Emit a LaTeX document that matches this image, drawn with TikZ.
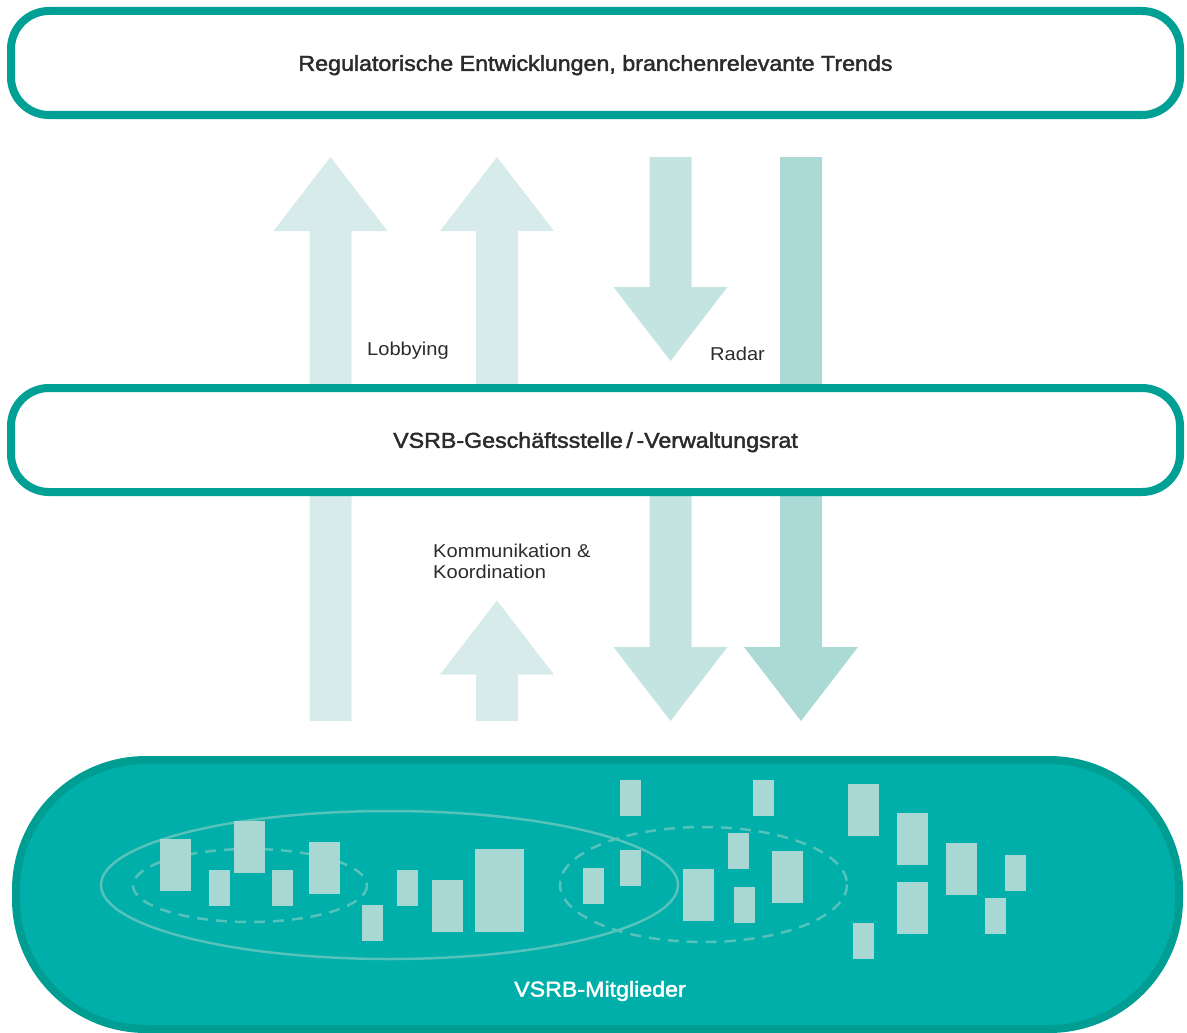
\documentclass[tikz,border=0pt]{standalone}
\usepackage{fontspec}
\setmainfont{Liberation Sans}[FakeStretch=1.08]
\newfontfamily\mediumfont{Liberation Sans}[FakeStretch=1.08,FakeBold=2]
\usetikzlibrary{positioning}

\definecolor{vsrbline}{HTML}{00A094}
\definecolor{vsrbfill}{HTML}{00AFA9}
\definecolor{vsrbedge}{HTML}{009D93}
\definecolor{ink}{HTML}{2B2B2B}
\definecolor{arrowlight}{HTML}{D7ECEA}
\definecolor{arrowmid}{HTML}{C4E4E1}
\definecolor{arrowdark}{HTML}{ABD9D5}
\definecolor{memberfill}{HTML}{A9D7D4}
\definecolor{ringline}{HTML}{55C2BC}

% block arrows: colour, centre x, tip y, tail y
\newcommand{\blockup}[4]{\fill[#1] (#2-21,#4) -- (#2-21,#3+74) -- (#2-57,#3+74) -- (#2,#3) -- (#2+57,#3+74) -- (#2+21,#3+74) -- (#2+21,#4) -- cycle;}
\newcommand{\blockdown}[4]{\fill[#1] (#2-21,#4) -- (#2-21,#3-74) -- (#2-57,#3-74) -- (#2,#3) -- (#2+57,#3-74) -- (#2+21,#3-74) -- (#2+21,#4) -- cycle;}

\begin{document}
\begin{tikzpicture}[x=1pt,y=-1pt,
  panel/.style={draw=vsrbline,line width=8pt,fill=white,rounded corners=38pt,minimum width=1169pt,minimum height=104pt,text depth=0pt,text=ink,font=\mediumfont\fontsize{21.5}{26}\selectfont},
  flowlabel/.style={inner sep=0pt,text=ink,align=left,font=\fontsize{18.6}{21}\selectfont},
  ring/.style={draw=ringline,line width=2.5pt},
  member/.style={fill=memberfill}]
\useasboundingbox (0,0) rectangle (1187,1033);

% flows between the levels
\blockup{arrowlight}{330.5}{157}{721}
\blockup{arrowlight}{497}{157}{440}
\blockup{arrowlight}{497}{600.5}{721}
\blockdown{arrowmid}{670.5}{361}{157}
\blockdown{arrowmid}{670.5}{721}{440}
\blockdown{arrowdark}{801}{721}{157}

\node[panel] (trends) at (595.5,63) {Regulatorische Entwicklungen, branchenrelevante Trends};
\node[panel] (office) at (595.5,440) {VSRB-Geschäftsstelle\,/\,-Verwaltungsrat};

\node[flowlabel,anchor=west] (lobby) at (367,351) {Lobbying};
\node[flowlabel,anchor=west] (radar) at (710,354) {Radar};
\node[flowlabel,anchor=west] (comm) at (433,561) {Kommunikation \&\\Koordination};

% members
\node[draw=vsrbedge,fill=vsrbfill,line width=8pt,rounded corners=130pt,minimum width=1163pt,minimum height=269pt] (members) at (597.5,894.5) {};
\draw[ring] (389.5,885) ellipse [x radius=288.5, y radius=74];
\draw[ring,dash pattern=on 11pt off 8pt] (250,885.5) ellipse [x radius=117, y radius=36.5];
\draw[ring,dash pattern=on 11pt off 8pt] (703.5,884.5) ellipse [x radius=143.5, y radius=57.5];
\foreach \a/\b/\c/\d in {160/839/191/891, 209/870/230/906, 234/821/265/873, 272/870/293/906,
  309/842/340/894, 362/905/383/941, 397/870/418/906, 432/880/463/932, 475/849/524/932,
  583/868/604/904, 620/850/641/886, 620/780/641/816, 683/869/714/921, 728/833/749/869,
  734/887/755/923, 772/851/803/903, 753/780/774/816, 848/784/879/836, 897/813/928/865,
  897/882/928/934, 946/843/977/895, 1005/855/1026/891, 985/898/1006/934, 853/923/874/959}
  \fill[member] (\a,\b) rectangle (\c,\d);
\node[text=white,font=\mediumfont\fontsize{21.5}{26}\selectfont] (memlabel) at (600,991) {VSRB-Mitglieder};
\end{tikzpicture}
\end{document}
